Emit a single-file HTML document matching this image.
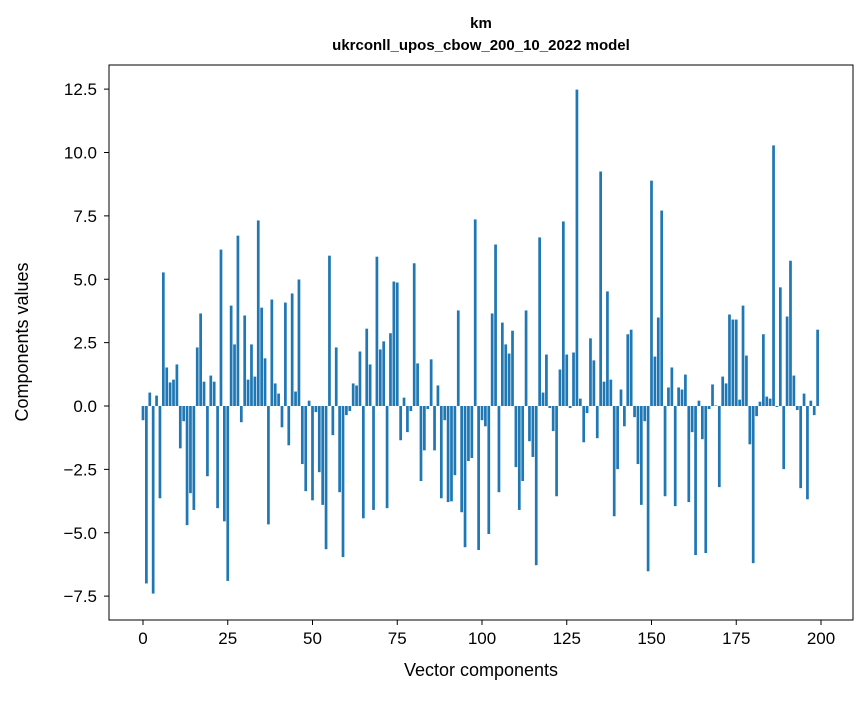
<!DOCTYPE html>
<html><head><meta charset="utf-8"><style>
body{margin:0;background:#fff;font-family:"Liberation Sans",sans-serif}
svg text{font-family:"Liberation Sans",sans-serif}
</style></head><body>
<svg id="chart" width="867" height="696" xmlns="http://www.w3.org/2000/svg">
<rect width="867" height="696" fill="#fff"/>
<text x="481" y="28" text-anchor="middle" font-size="15" font-weight="bold">km</text>
<text x="481" y="50" text-anchor="middle" font-size="15" font-weight="bold">ukrconll_upos_cbow_200_10_2022 model</text>
<g id="bars"></g>
<g id="axes"></g>
<rect x="109" y="65" width="744" height="555" fill="none" stroke="#000" stroke-width="1"/>
<text x="481" y="676" text-anchor="middle" font-size="18">Vector components</text>
<text transform="translate(28,342) rotate(-90)" text-anchor="middle" font-size="18">Components values</text>
</svg>
<script>
const values=[-0.56,-7.0,0.53,-7.4,0.41,-3.64,5.27,1.52,0.93,1.04,1.64,-1.67,-0.6,-4.7,-3.44,-4.1,2.31,3.65,0.96,-2.77,1.2,0.96,-4.03,6.17,-4.55,-6.9,3.96,2.43,6.72,-0.64,3.57,1.04,2.43,1.16,7.32,3.88,1.88,-4.67,4.2,0.89,0.49,-0.84,4.08,-1.55,4.44,0.57,4.99,-2.29,-3.36,0.21,
-3.72,-0.24,-2.61,-3.9,-5.65,5.93,-1.15,2.31,-3.4,-5.96,-0.36,-0.2,0.89,0.81,2.15,-4.43,3.05,1.64,-4.1,5.89,2.23,2.55,-4.03,2.87,4.91,4.87,-1.35,0.33,-1.03,-0.2,5.63,1.68,-2.96,-1.75,-0.12,1.84,-1.75,0.81,-3.64,-0.56,-3.79,-3.76,-2.73,3.77,-4.19,-5.57,-2.17,-2.05,7.36,-5.68,
-0.56,-0.8,-5.05,3.65,6.37,-3.4,3.29,2.43,2.07,2.97,-2.41,-4.1,-2.96,3.77,-1.39,-2.01,-6.28,6.65,0.53,2.03,-0.08,-0.99,-3.56,1.44,7.28,2.03,-0.08,2.11,12.48,0.29,-1.43,-0.28,2.67,1.8,-1.27,9.25,0.96,4.52,1.04,-4.35,-2.49,0.65,-0.8,2.83,3.01,-0.44,-2.29,-3.9,-0.6,-6.52,
8.89,1.95,3.49,7.71,-3.56,0.73,1.52,-3.95,0.73,0.65,1.24,-3.79,-1.03,-5.88,0.21,-1.31,-5.8,-0.12,0.85,0.02,-3.2,1.16,0.89,3.61,3.41,3.41,0.25,3.96,1.99,-1.51,-6.2,-0.4,0.17,2.83,0.37,0.29,10.28,-0.04,4.68,-2.49,3.53,5.73,1.2,-0.16,-3.24,0.49,-3.68,0.21,-0.36,3.01];
const yTicks=[-7.5,-5.0,-2.5,0.0,2.5,5.0,7.5,10.0,12.5];
const xTicks=[0,25,50,75,100,125,150,175,200];
const NS="http://www.w3.org/2000/svg";
function xs(v){return 143+v*3.39;}
function ys(v){return 406-v*25.35;}
const bars=document.getElementById('bars');
values.forEach((v,i)=>{
  const r=document.createElementNS(NS,'rect');
  
  
  const w=0.8*3.39;
  r.setAttribute('x',xs(i)-w/2);
  r.setAttribute('width',w);
  r.setAttribute('y',Math.min(ys(v),ys(0)));
  r.setAttribute('height',Math.abs(ys(v)-ys(0)));
  r.setAttribute('fill','#1f77b4');
  bars.appendChild(r);
});
const ax=document.getElementById('axes');
yTicks.forEach(t=>{
  const l=document.createElementNS(NS,'line');
  
  
  l.setAttribute('x1',104);l.setAttribute('x2',109);
  l.setAttribute('y1',ys(t));l.setAttribute('y2',ys(t));
  l.setAttribute('stroke','#000');
  ax.appendChild(l);
  const tx=document.createElementNS(NS,'text');
  
  
  tx.setAttribute('x',97);tx.setAttribute('y',ys(t)+6);
  tx.setAttribute('text-anchor','end');tx.setAttribute('font-size','17');
  tx.textContent=t.toFixed(1).replace('-','\u2212');
  ax.appendChild(tx);
});
xTicks.forEach(t=>{
  const l=document.createElementNS(NS,'line');
  
  
  l.setAttribute('x1',xs(t));l.setAttribute('x2',xs(t));
  l.setAttribute('y1',620);l.setAttribute('y2',625);
  l.setAttribute('stroke','#000');
  ax.appendChild(l);
  const tx=document.createElementNS(NS,'text');
  
  
  tx.setAttribute('x',xs(t));tx.setAttribute('y',644);
  tx.setAttribute('text-anchor','middle');tx.setAttribute('font-size','17');
  tx.textContent=t;
  ax.appendChild(tx);
});
</script>
</body></html>
